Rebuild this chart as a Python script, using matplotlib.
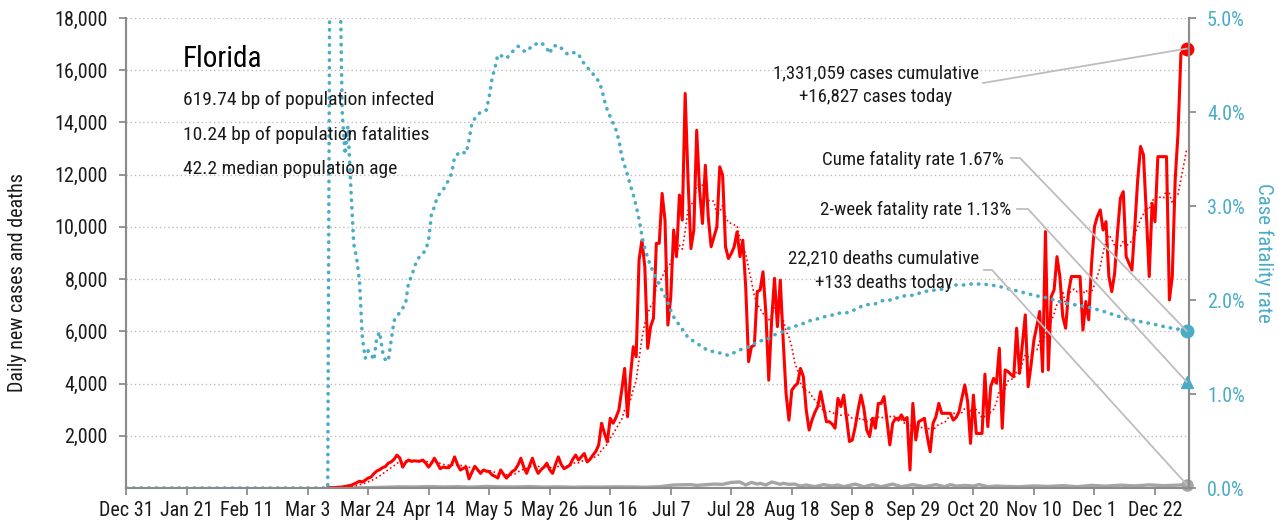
import numpy as np
import pandas as pd
import matplotlib
matplotlib.use("Agg")
import matplotlib.pyplot as plt
from matplotlib import font_manager
from matplotlib.lines import Line2D

AVAIL = {f.name for f in font_manager.fontManager.ttflist}
FONT = next((f for f in ["Roboto Condensed", "Archivo Narrow", "PT Sans Narrow", "Liberation Sans"]
             if f in AVAIL), "DejaVu Sans")
plt.rcParams["font.family"] = [FONT, "DejaVu Sans"]

W, H = 1278, 529
RED = "#FF0000"
TEAL = "#4BACC6"
GRAY = "#A5A5A5"
AXC = "#8C8C8C"
TXT = "#1A1A1A"

# ---- data (day 0 = Dec 31, 2019) -------------------------------------------------------
tick_days = list(range(0, 358, 21))
tick_labels = ["Dec 31", "Jan 21", "Feb 11", "Mar 3", "Mar 24", "Apr 14", "May 5", "May 26",
               "Jun 16", "Jul 7", "Jul 28", "Aug 18", "Sep 8", "Sep 29", "Oct 20", "Nov 10",
               "Dec 1", "Dec 22"]

cases_start = 70
daily_cases = [
    10, 14, 12, 20, 26,
    40, 60, 80, 100, 150, 200, 260,
    230, 300, 380, 420, 550, 650, 700,
    780, 820, 950, 1000, 1100, 1260, 1150,
    800, 980, 1070, 1020, 1040, 1030, 1030,
    1070, 950, 800, 950, 1140, 950, 740,
    800, 780, 780, 900, 1190, 900, 690,
    750, 800, 350, 600, 830, 700, 560,
    690, 650, 630, 500, 450, 380, 690,
    520, 380, 500, 630, 700, 880, 1140,
    800, 560, 850, 1140, 800, 560, 700,
    800, 950, 700, 560, 900, 1190, 900,
    740, 800, 880, 1100, 1260, 1070, 1200,
    1320, 1000, 1100, 1260, 1400, 1650, 2480,
    2090, 1770, 2670, 2480, 2700, 2990, 3750,
    4580, 2730, 4270, 5410, 5030, 8730, 9490,
    8470, 5350, 6180, 6500, 9370, 9370, 11280,
    10260, 6240, 7320, 9880, 8860, 11220, 10260,
    15110, 11790, 9170, 9880, 13700, 11410, 10130,
    12360, 10390, 9240, 9620, 10000, 12300, 11980,
    9240, 8790, 8980, 9240, 9810, 8860, 9490,
    7710, 4840, 5410, 5470, 7520, 7580, 8280,
    6690, 4130, 6430, 8030, 6180, 7960, 5670,
    3620, 2600, 3750, 3900, 4010, 4580, 4270,
    2990, 2220, 2600, 2900, 3120, 3690, 3120,
    2540, 2540, 2450, 2290, 3430, 3120, 3560,
    2670, 1780, 1840, 2350, 3000, 3560, 3050,
    2220, 1970, 2670, 2290, 3240, 3240, 3500,
    2600, 1650, 2480, 2670, 2600, 2800, 2600,
    2700, 690, 3240, 1840, 2540, 2600, 2670,
    1970, 1390, 2480, 2730, 3240, 2860, 2860,
    2860, 2860, 2600, 2700, 2920, 3430, 3950,
    3310, 1710, 3560, 2090, 2090, 2090, 4360,
    2350, 3880, 4200, 4010, 5350, 2290, 4520,
    4460, 4350, 4260, 6120, 4390, 5500, 6630,
    3880, 4710, 5670, 6200, 6760, 4460, 9820,
    4520, 7330, 7590, 8860, 8100, 6560, 6120,
    7500, 8100, 8100, 8100, 8100, 6050, 7140,
    6440, 8610, 10010, 10400, 10650, 9880, 10200,
    8100, 7520, 8220, 9800, 11100, 11350, 8860,
    8600, 8350, 10010, 11800, 13080, 12760, 10500,
    8100, 10900, 10200, 12690, 12690, 12690, 12690,
    7200, 8100, 11800, 13600, 16650, 16700, 16827,
]

death_days = [78, 80, 85, 90, 95, 100, 105, 110, 115, 120, 125, 130, 135, 140, 145, 150, 155,
              160, 165, 170, 175, 180, 185, 190, 196, 198, 204, 207, 210, 213, 215, 217, 219,
              220, 222, 224, 225, 227, 228, 230, 232, 234, 236, 239, 242, 245, 247, 249, 253,
              256, 259, 262, 266, 269, 273, 277, 281, 284, 286, 288, 291, 294, 296, 299, 302,
              305, 310, 315, 320, 325, 330, 335, 340, 345, 350, 355, 360, 365, 368]
death_vals = [0, 5, 15, 30, 45, 40, 55, 40, 50, 35, 60, 45, 40, 55, 35, 45, 30,
              40, 35, 45, 40, 30, 50, 115, 130, 100, 150, 140, 215, 230, 115, 215, 150,
              180, 115, 230, 205, 140, 180, 140, 150, 75, 115, 50, 130, 75, 115, 50, 150,
              50, 130, 50, 150, 50, 130, 50, 130, 50, 130, 75, 100, 75, 130, 50, 75,
              60, 50, 80, 60, 90, 50, 100, 70, 110, 80, 120, 90, 110, 133]

cfr_days = [0, 70, 71, 74, 75, 76, 77, 78, 79, 80, 81, 82, 83, 84, 85, 86, 87, 88, 89, 90,
            91, 92, 93, 95, 97, 98, 99, 101, 104, 105, 106, 107, 108, 110, 112, 113, 114, 116,
            118, 119, 120, 121, 123, 125, 126, 127, 128, 129, 131, 132, 134, 136, 138, 139,
            141, 144, 146, 147, 148, 150, 151, 153, 154, 157, 158, 160, 161, 163, 164, 165,
            166, 167, 168, 169, 170, 171, 172, 173, 174, 175, 176, 177, 178, 179, 180, 181,
            182, 183, 184, 185, 186, 187, 188, 189, 190, 192, 193, 195, 197, 198, 200, 202,
            204, 207, 209, 211, 213, 215, 217, 219, 221, 223, 225, 227, 230, 232, 234, 236,
            238, 240, 242, 245, 247, 249, 251, 253, 255, 257, 260, 262, 264, 266, 268, 271,
            273, 275, 277, 279, 282, 284, 286, 288, 291, 293, 295, 297, 300, 302, 305, 310,
            315, 320, 324, 329, 333, 338, 343, 347, 352, 357, 361, 365, 368]
cfr_vals = [0, 0, 8.0, 6.0, 4.0, 3.55, 3.85, 3.2, 2.6, 2.45, 2.2, 1.6, 1.38, 1.46, 1.43, 1.36,
            1.6, 1.66, 1.45, 1.36, 1.35, 1.57, 1.78, 1.87, 1.96, 2.18, 2.25, 2.43, 2.53, 2.64,
            2.92, 2.99, 3.1, 3.17, 3.28, 3.35, 3.52, 3.58, 3.56, 3.7, 3.88, 3.93, 4.0, 4.02,
            4.16, 4.36, 4.47, 4.61, 4.59, 4.57, 4.64, 4.7, 4.65, 4.64, 4.71, 4.74, 4.68, 4.62,
            4.7, 4.71, 4.68, 4.62, 4.64, 4.62, 4.55, 4.48, 4.43, 4.38, 4.32, 4.25, 4.12, 4.02,
            3.95, 3.88, 3.81, 3.7, 3.53, 3.43, 3.33, 3.22, 3.12, 3.0, 2.86, 2.68, 2.55, 2.45,
            2.36, 2.3, 2.23, 2.16, 2.1, 2.04, 1.97, 1.89, 1.82, 1.73, 1.69, 1.6, 1.56, 1.54,
            1.5, 1.46, 1.45, 1.43, 1.41, 1.44, 1.47, 1.49, 1.51, 1.56, 1.57, 1.59, 1.63, 1.65,
            1.7, 1.72, 1.74, 1.76, 1.79, 1.8, 1.82, 1.84, 1.86, 1.86, 1.87, 1.9, 1.93, 1.95,
            1.96, 1.99, 2.0, 2.0, 2.03, 2.05, 2.05, 2.07, 2.09, 2.1, 2.11, 2.12, 2.14, 2.16,
            2.16, 2.17, 2.17, 2.17, 2.16, 2.15, 2.13, 2.09, 2.05, 2.02, 1.98, 1.95, 1.93, 1.89,
            1.84, 1.8, 1.77, 1.74, 1.71, 1.69, 1.67]
two_week_cfr = 1.13

info_lines = ["619.74 bp of population infected", "10.24 bp of population fatalities",
              "42.2 median population age"]

# ---- series ----------------------------------------------------------------------------
last_day = cases_start + len(daily_cases) - 1
full = pd.Series(0.0, index=np.arange(0, last_day + 1))
full.loc[cases_start:] = daily_cases
avg7 = full.rolling(7).mean()
case_days = np.arange(cases_start, last_day + 1)

FS = 14.5      # tick labels / axis titles
FS_INFO = 14   # block under "Florida"
FS_NOTE = 13.6 # right-hand callouts

fig = plt.figure(figsize=(W / 100, H / 100), dpi=100)
ax = fig.add_axes([126 / W, 41 / H, (1189 - 126) / W, 470 / H])
ax2 = ax.twinx()

ax.plot(death_days, death_vals, color=GRAY, lw=2.4, solid_joinstyle="round")
ax.plot(case_days, daily_cases, color=RED, lw=2.2, solid_joinstyle="round")
ax.plot(avg7.index, avg7.values, color=RED, lw=1.2, ls=(0, (1, 1.6)))
ax.plot([last_day], [daily_cases[-1]], "o", color=RED, ms=9, clip_on=False, zorder=5)
ax.plot([last_day], [death_vals[-1]], "o", color=GRAY, ms=8, clip_on=False, zorder=5)

ax2.plot(cfr_days, cfr_vals, color=TEAL, lw=2.6, ls=(0, (0.1, 2.0)), dash_capstyle="round")
ax2.plot([last_day], [cfr_vals[-1]], "o", color=TEAL, ms=9, clip_on=False, zorder=5)
ax2.plot([last_day], [two_week_cfr], "^", color=TEAL, ms=9, clip_on=False, zorder=5)

ax.set_xlim(0, last_day + 0.8)
ax.set_ylim(0, 18000)
ax2.set_ylim(0, 5)

ax.set_xticks(tick_days)
ax.set_xticklabels(tick_labels)
ax.set_yticks(range(2000, 18001, 2000))
ax.set_yticklabels([f"{v:,}" for v in range(2000, 18001, 2000)])
ax2.set_yticks(range(0, 6))
ax2.set_yticklabels([f"{v:.1f}%" for v in range(0, 6)])

ax.yaxis.grid(True, color="#BDBDBD", lw=1.0, ls=(0, (1, 2)))
ax.set_axisbelow(True)

for a in (ax, ax2):
    a.spines["top"].set_visible(False)
    for s in ("left", "right", "bottom"):
        a.spines[s].set_color(AXC)
        a.spines[s].set_linewidth(1.5)
ax.tick_params(axis="both", colors=AXC, labelcolor=TXT, labelsize=FS, length=5, width=1.3)
ax.tick_params(axis="y", pad=8)
ax.tick_params(axis="x", pad=4)
ax2.tick_params(axis="y", colors=AXC, labelcolor=TEAL, labelsize=FS, length=5, width=1.3, pad=8)

fig.text(18 / W, 1 - 282 / H, "Daily new cases and deaths", rotation=90, ha="center",
         va="center", fontsize=FS, color=TXT)
fig.text(1264 / W, 1 - 253 / H, "Case fatality rate", rotation=270, ha="center",
         va="center", fontsize=FS + 0.5, color=TEAL)


def fx(x, y):
    return x / W, 1 - y / H


fig.text(*fx(183, 59), "Florida", fontsize=21, color="black", va="center", ha="left")
for i, line in enumerate(info_lines):
    fig.text(*fx(183, 100 + 34.5 * i), line, fontsize=FS_INFO, color=TXT, va="center", ha="left")

fig.text(*fx(876, 73), "1,331,059 cases cumulative", fontsize=FS_NOTE, color=TXT, ha="center", va="center")
fig.text(*fx(876, 97), "+16,827 cases today", fontsize=FS_NOTE, color=TXT, ha="center", va="center")
fig.text(*fx(1004, 160), "Cume fatality rate 1.67%", fontsize=FS_NOTE, color=TXT, ha="right", va="center")
fig.text(*fx(1011, 210), "2-week fatality rate 1.13%", fontsize=FS_NOTE, color=TXT, ha="right", va="center")
fig.text(*fx(884, 258), "22,210 deaths cumulative", fontsize=FS_NOTE, color=TXT, ha="center", va="center")
fig.text(*fx(884, 283), "+133 deaths today", fontsize=FS_NOTE, color=TXT, ha="center", va="center")

# leader lines from the labels to the end markers
inv = fig.transFigure.inverted()


def to_fig(a, x, y):
    return inv.transform(a.transData.transform((x, y)))


leaders = [
    ([(983, 83)], to_fig(ax, last_day, daily_cases[-1])),
    ([(1011, 158), (1020, 158)], to_fig(ax2, last_day, cfr_vals[-1])),
    ([(1017, 209), (1028, 209)], to_fig(ax2, last_day, two_week_cfr)),
    ([(984, 270), (992, 270)], to_fig(ax, last_day, death_vals[-1])),
]
for pts, end in leaders:
    xs = [p[0] / W for p in pts] + [end[0]]
    ys = [1 - p[1] / H for p in pts] + [end[1]]
    fig.add_artist(Line2D(xs, ys, color="#BDBDBD", lw=1.3, transform=fig.transFigure, zorder=1))

fig.savefig("out.png", dpi=100)
